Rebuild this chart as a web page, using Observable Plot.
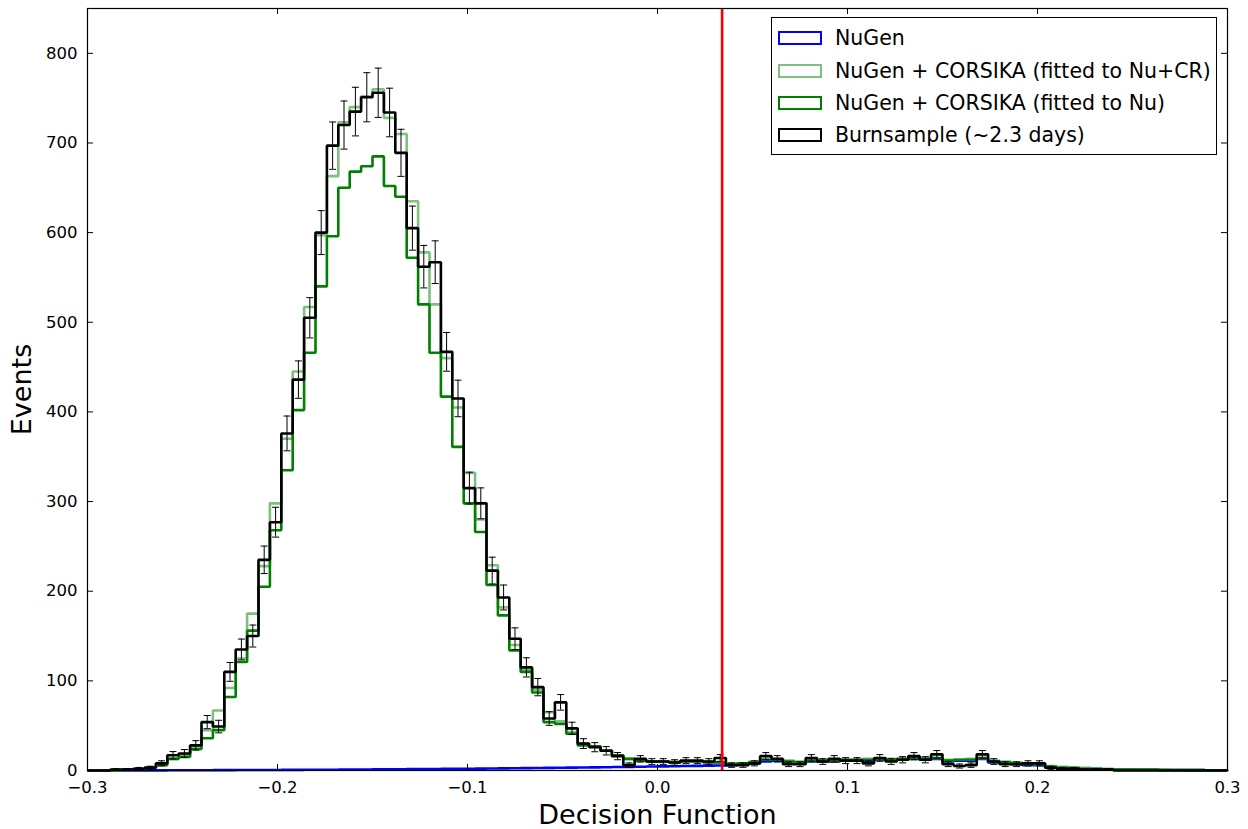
<!DOCTYPE html>
<html>
<head>
<meta charset="utf-8">
<script src="https://cdn.jsdelivr.net/npm/d3@7"></script>
<script src="https://cdn.jsdelivr.net/npm/@observablehq/plot@0.6"></script>
<style>
  body { margin: 0; background: #fff; }
  #wrap { position: relative; width: 1248px; height: 829px; font-family: "DejaVu Sans", sans-serif; color: #000; }
  #legend { position: absolute; left: 771px; top: 17px; width: 446px; height: 138px; border: 1px solid #000; background: #fff; box-sizing: border-box; }
  .row { position: absolute; left: 0; height: 24px; line-height: 24px; font-size: 20.5px; white-space: nowrap; }
  .sw { position: absolute; left: 6px; top: 5px; width: 44px; height: 14px; box-sizing: border-box; border: 2.5px solid; }
  .lab { position: absolute; left: 63px; top: 0; }
</style>
</head>
<body>
<div id="wrap"></div>
<script>
// Histogram binning: 100 bins of width 0.006 from -0.3 to 0.3
const binStart = -0.3;
const binWidth = 0.006;

// NuGen (blue)
const nugen = [0,0,0,0,0,0.1,0.1,0.2,0.2,0.3,
  0.3,0.4,0.4,0.5,0.5,0.6,0.6,0.7,0.7,0.8,
  0.9,0.9,1.0,1.1,1.1,1.2,1.3,1.4,1.5,1.6,
  1.7,1.8,1.9,2.0,2.1,2.2,2.4,2.5,2.6,2.8,
  2.9,3.1,3.2,3.4,3.5,3.7,3.9,4.0,4.2,4.4,
  4.6,4.8,5.0,5.2,5.4,5.6,6,7,8,10,
  11,9,8,10,10,10,11,11,11,12,
  11,12,13,12,13,10,11,11,13,9,
  8,7,6,6,3.5,2.5,2.5,1.5,1.5,1,
  1,1,0.8,0.8,0.5,0.5,0.4,0.4,0.3,0.3];

// NuGen + CORSIKA (fitted to Nu+CR) (light green)
const nuCR = [0,0,0,1,1,3,7,13,17,27,
  45,67,92,125,175,228,298,370,445,517,
  597,663,723,740,752,760,728,710,635,578,
  520,460,405,332,280,229,182,140,112,90,
  65,55,43,30,27,22,17,13,11,10,
  10,10,10,10,10,9,8,8,10,12,
  12,11,10,11,12,12,12,12,13,13,
  13,13,14,14,14,12,12,13,14,11,
  10,9,8,7,5,4,3,3,2,2,
  1,1,1,1,1,0.5,0.5,0.5,0.3,0.3];

// NuGen + CORSIKA (fitted to Nu) (dark green)
const nuOnly = [0,0,0,1,1,3,6,13,15,24,
  36,45,82,121,156,205,268,335,402,466,
  540,596,650,668,674,685,652,640,572,520,
  466,417,361,298,266,207,173,134,110,87,
  54,52,41,28,27,22,17,13,11,10,
  10,9,10,10,9,9,7,8,9,12,
  12,10,9,11,11,11,12,12,12,13,
  12,13,14,13,14,11,12,12,14,10,
  9,8,7,7,4,3,3,2,2,1,
  1,1,1,1,0.5,0.5,0.5,0.5,0.3,0.3];

// Burnsample (~2.3 days) (black, with Poisson error bars)
const burn = [0,0,1,1,2,3,8,17,19,28,
  54,49,110,135,150,235,277,376,436,505,
  600,697,720,735,751,756,734,689,605,562,
  567,467,415,315,298,223,193,147,115,93,
  58,76,47,30,26,22,16,6,13,10,
  10,9,11,11,10,14,6,6,8,16,
  13,7,7,14,10,13,11,11,8,14,
  10,12,16,12,18,7,5,6,18,10,
  7,7,8,8,3,2,2,1,1,1,
  0,0,0,0,0,0,0,0,0,0];

const cutValue = 0.034;
const xTicks = [-0.3, -0.2, -0.1, 0.0, 0.1, 0.2, 0.3];
const yTicks = [0, 100, 200, 300, 400, 500, 600, 700, 800];
const seriesNames = ["NuGen", "NuGen + CORSIKA (fitted to Nu+CR)", "NuGen + CORSIKA (fitted to Nu)", "Burnsample (~2.3 days)"];
const seriesColors = ["#0000ff", "#7fbf7f", "#008000", "#000000"];
const xLabel = "Decision Function";
const yLabel = "Events";

// Layout
const W = 1248, H = 829, mL = 87, mR = 21, mT = 8, mB = 59;
const innerW = W - mL - mR, innerH = H - mT - mB;

const edges = nugen.map((_, i) => binStart + i * binWidth);
function stepPoints(vals) {
  const end = binStart + vals.length * binWidth;
  const pts = [{x: binStart, y: 0}];
  vals.forEach((v, i) => pts.push({x: edges[i], y: v}));
  pts.push({x: end, y: vals[vals.length - 1]});
  pts.push({x: end, y: 0});
  return pts;
}
const errData = burn.map((v, i) => ({x: edges[i] + binWidth / 2, y: v})).filter(d => d.y > 0);
const capSymbol = { draw(ctx) { ctx.moveTo(-3.5, 0); ctx.lineTo(3.5, 0); } };

const lineOpts = (color) => ({x: "x", y: "y", curve: "step-after", stroke: color, strokeWidth: 2.6, strokeLinejoin: "miter", strokeLinecap: "butt"});
const allSeries = [nugen, nuCR, nuOnly, burn];

const plot = Plot.plot({
  width: W, height: H,
  marginLeft: mL, marginRight: mR, marginTop: mT, marginBottom: mB,
  style: {fontFamily: "DejaVu Sans, sans-serif", fontSize: "16.5px", background: "#fff", color: "#000", overflow: "visible"},
  x: {domain: [-0.3, 0.3]},
  y: {domain: [0, 850]},
  marks: [
    ...allSeries.map((vals, k) => Plot.line(stepPoints(vals), lineOpts(seriesColors[k]))),
    Plot.ruleX(errData, {x: "x", y1: d => d.y - Math.sqrt(d.y), y2: d => d.y + Math.sqrt(d.y), stroke: "#000", strokeWidth: 1}),
    Plot.dot(errData, {x: "x", y: d => d.y + Math.sqrt(d.y), symbol: capSymbol, fill: "none", stroke: "#000", strokeWidth: 1}),
    Plot.dot(errData, {x: "x", y: d => d.y - Math.sqrt(d.y), symbol: capSymbol, fill: "none", stroke: "#000", strokeWidth: 1}),
    Plot.ruleX([cutValue], {stroke: "#ff0000", strokeWidth: 2.6}),
    Plot.ruleX(xTicks, {stroke: "#000", insetBottom: innerH - 6}),
    Plot.ruleY(yTicks, {stroke: "#000", insetLeft: innerW - 6}),
    Plot.axisX({ticks: xTicks, tickFormat: d3.format(".1f"), tickSize: -6, tickPadding: 17, fontSize: 16.5, label: null}),
    Plot.axisY({ticks: yTicks, tickSize: -6, tickPadding: 16, fontSize: 16.5, label: null}),
    Plot.frame({stroke: "#000", strokeWidth: 1.2}),
    Plot.text([xLabel], {frameAnchor: "bottom", textAnchor: "middle", lineAnchor: "middle", dy: 45, fontSize: 27, fill: "#000"}),
    Plot.text([yLabel], {frameAnchor: "left", textAnchor: "middle", lineAnchor: "middle", dx: -65, rotate: -90, fontSize: 27, fill: "#000"})
  ]
});

const wrap = document.getElementById("wrap");
wrap.appendChild(plot);

const legend = document.createElement("div");
legend.id = "legend";
const rowTops = [8, 41, 73, 105];
seriesNames.forEach((name, k) => {
  const row = document.createElement("div");
  row.className = "row";
  row.style.top = rowTops[k] + "px";
  const sw = document.createElement("span");
  sw.className = "sw";
  sw.style.borderColor = seriesColors[k];
  const lab = document.createElement("span");
  lab.className = "lab";
  lab.textContent = name;
  row.appendChild(sw);
  row.appendChild(lab);
  legend.appendChild(row);
});
wrap.appendChild(legend);
</script>
</body>
</html>
